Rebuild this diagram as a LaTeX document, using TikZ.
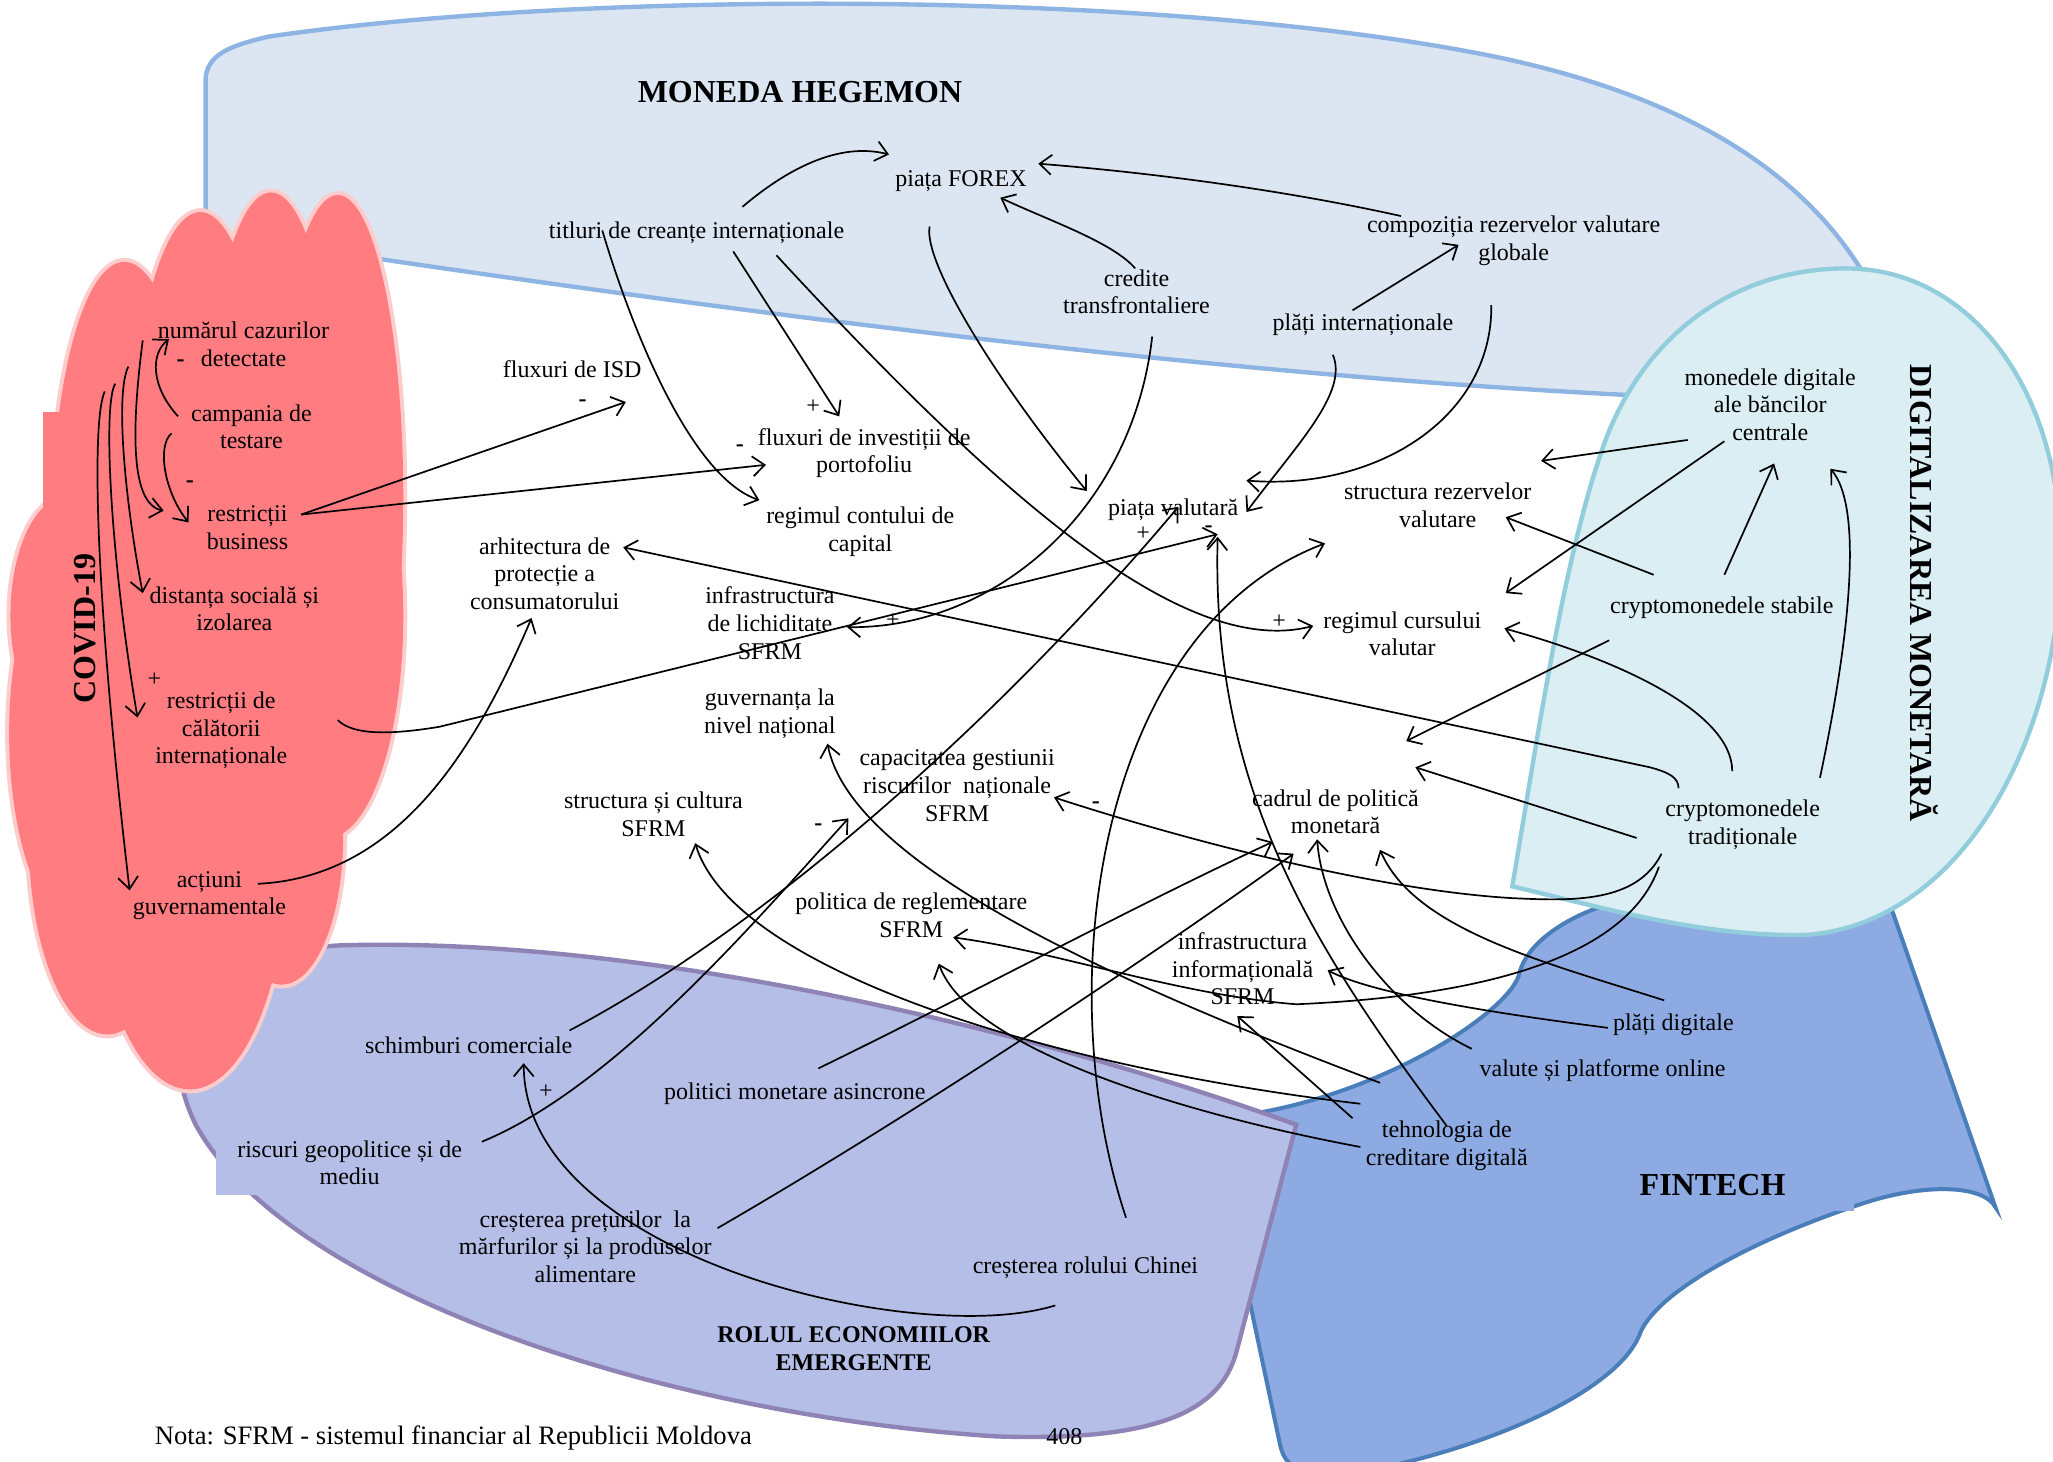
\documentclass[tikz,border=0pt]{standalone}
\usepackage{fontspec}
\setmainfont{Liberation Serif}
\usetikzlibrary{arrows.meta,calc}
\definecolor{cloudfill}{HTML}{FF7C80}
\definecolor{cloudline}{HTML}{FFCCCC}
\definecolor{hegfill}{HTML}{DCE6F2}
\definecolor{hegline}{HTML}{8EB4E3}
\definecolor{digfill}{HTML}{DAEEF3}
\definecolor{digline}{HTML}{92CDDC}
\definecolor{finfill}{HTML}{8DAAE2}
\definecolor{finline}{HTML}{4A7EBB}
\definecolor{emfill}{HTML}{B4BEE6}
\definecolor{emline}{HTML}{8F82B4}
\begin{document}
\begin{tikzpicture}[x=0.6547pt,y=-0.6547pt,
  lbl/.style={inner sep=0pt,align=center,font=\fontsize{12}{13.8}\selectfont},
  ttl/.style={inner sep=0pt,align=center,font=\fontsize{16}{18}\selectfont\bfseries},
  ttlsmall/.style={inner sep=0pt,align=center,font=\fontsize{12}{13.8}\selectfont\bfseries},
  sgn/.style={inner sep=0pt,font=\fontsize{12}{13.8}\selectfont},
  conn/.style={line width=0.85pt,-{Straight Barb[length=6pt,width=10pt]}},
]
\useasboundingbox (0,0) rectangle (1568,1116);
\fill[white] (0,0) rectangle (1568,1116);

% ---------- background areas ----------
% Moneda hegemon
\path[fill=hegfill,draw=hegline,line width=2.2pt]
  (157,178) -- (157,62) .. controls (157,42) and (175,35) .. (205,28)
  .. controls (450,-8) and (900,-8) .. (1150,45)
  .. controls (1300,78) and (1390,140) .. (1435,230)
  .. controls (1460,290) and (1400,302) .. (1250,302)
  .. controls (900,285) and (500,230) .. cycle;

% Fintech
\path[fill=finfill,draw=finline,line width=2pt]
  (1445,695) -- (1524,922) .. controls (1515,905) and (1470,903) .. (1420,920)
  .. controls (1330,950) and (1262,990) .. (1252,1020)
  .. controls (1235,1060) and (1150,1100) .. (1060,1120) -- (990,1120)
  .. controls (983,1118) and (980,1112) .. (978,1105) -- (925,855) -- (940,853)
  .. controls (1050,840) and (1150,775) .. (1160,745)
  .. controls (1165,720) and (1200,695) .. (1250,685) -- cycle;
\fill[finfill] (1200,885) rectangle (1416,925);

% Rolul economiilor emergente
\path[fill=emfill,draw=emline,line width=2.2pt]
  (990,859) .. controls (800,790) and (500,715) .. (260,722)
  .. controls (150,728) and (115,790) .. (150,860)
  .. controls (220,985) and (500,1080) .. (760,1097)
  .. controls (900,1102) and (935,1070) .. (945,1030) -- cycle;
\fill[emfill] (165,862) rectangle (368,913);

% Digitalizarea monetara
\path[fill=digfill,draw=digline,line width=2.2pt]
  (1155,677) .. controls (1175,560) and (1195,420) .. (1227,334)
  .. controls (1260,250) and (1330,205) .. (1410,205)
  .. controls (1500,205) and (1572,290) .. (1574,420)
  .. controls (1575,560) and (1500,705) .. (1380,714)
  .. controls (1300,716) and (1220,692) .. cycle;

% COVID-19 cloud: lobes with outline, then interiors filled again
\foreach \cx/\cy/\rx/\ry in {95/400/55/200, 153/380/55/218, 207/370/52/223,
    258/380/50/231, 250/470/58/170, 215/640/47/112, 145/650/75/182,
    82/640/60/150, 62/560/55/150, 50/470/42/90}
  \draw[cloudline,fill=cloudfill,line width=4pt] (\cx,\cy) ellipse [x radius=\rx, y radius=\ry];
\foreach \cx/\cy/\rx/\ry in {95/400/55/200, 153/380/55/218, 207/370/52/223,
    258/380/50/231, 250/470/58/170, 215/640/47/112, 145/650/75/182,
    82/640/60/150, 62/560/55/150, 50/470/42/90, 160/480/100/220}
  \fill[cloudfill] (\cx,\cy) ellipse [x radius=\rx, y radius=\ry];
\fill[cloudfill] (33,315) rectangle (95,553);

% ---------- titles ----------
\node[ttl] (tHeg) at (611,70) {MONEDA HEGEMON};
\node[ttl,rotate=90] (tCov) at (65,480) {COVID-19};
\node[ttl,rotate=-90] (tDig) at (1470,453) {DIGITALIZAREA MONETARĂ};
\node[ttl] (tFin) at (1308,905) {FINTECH};
\node[ttlsmall] (tEm) at (652,1030) {ROLUL ECONOMIILOR\\EMERGENTE};
\node[inner sep=0pt,font=\fontsize{13.3}{15}\selectfont,anchor=west] (nota) at (118,1098) {Nota: SFRM - sistemul financiar al Republicii Moldova};
\node[lbl] (pg) at (813,1097) {408};

% ---------- variables ----------
\node[lbl] (c1) at (186,263) {numărul cazurilor\\detectate};
\node[lbl] (c2) at (192,326) {campania de\\testare};
\node[lbl] (c3) at (189,403) {restricții\\business};
\node[lbl] (c4) at (179,465) {distanța socială și\\izolarea};
\node[lbl] (c5) at (169,558) {restricții de\\călătorii\\internaționale};
\node[lbl] (c6) at (160,684) {acțiuni\\guvernamentale};

\node[lbl] (h1) at (734,138) {piața FOREX};
\node[lbl] (h2) at (532,178) {titluri de creanțe internaționale};
\node[lbl] (h3) at (868,223) {credite\\transfrontaliere};
\node[lbl] (h4) at (1156,184) {compoziția rezervelor valutare\\globale};
\node[lbl] (h5) at (1041,248) {plăți internaționale};

\node[lbl] (m1) at (437,282) {fluxuri de ISD};
\node[lbl] (m2) at (660,346) {fluxuri de investiții de\\portofoliu};
\node[lbl] (m3) at (657,406) {regimul contului de\\capital};
\node[lbl] (m4) at (416,438) {arhitectura de\\protecție a\\consumatorului};
\node[lbl] (m5) at (588,476) {infrastructura\\de lichiditate\\SFRM};
\node[lbl] (m6) at (896,389) {piața valutară};
\node[lbl] (m7) at (1098,386) {structura rezervelor\\valutare};
\node[lbl] (m8) at (1071,484) {regimul cursului\\valutar};
\node[lbl] (m9) at (588,545) {guvernanța la\\nivel național};
\node[lbl] (m10) at (731,600) {capacitatea gestiunii\\riscurilor~~naționale\\SFRM};
\node[lbl] (m11) at (499,622) {structura și cultura\\SFRM};
\node[lbl] (m12) at (1020,620) {cadrul de politică\\monetară};
\node[lbl] (m13) at (696,699) {politica de reglementare\\SFRM};
\node[lbl] (m14) at (949,740) {infrastructura\\informațională\\SFRM};

\node[lbl] (d1) at (1352,309) {monedele digitale\\ale băncilor\\centrale};
\node[lbl] (d2) at (1315,464) {cryptomonedele stabile};
\node[lbl] (d3) at (1331,630) {cryptomonedele\\tradiționale};

\node[lbl] (f1) at (1278,783) {plăți digitale};
\node[lbl] (f2) at (1224,818) {valute și platforme online};
\node[lbl] (f3) at (1105,875) {tehnologia de\\creditare digitală};

\node[lbl] (e1) at (358,798) {schimburi comerciale};
\node[lbl] (e2) at (607,835) {politici monetare asincrone};
\node[lbl] (e3) at (267,888) {riscuri geopolitice și de\\mediu};
\node[lbl] (e4) at (447,952) {creșterea prețurilor~~la\\mărfurilor și la produselor\\alimentare};
\node[lbl] (e5) at (829,968) {creșterea rolului Chinei};

% ---------- polarity signs ----------
\node[sgn] (s1) at (138,277) {\textbf{-}};
\node[sgn] (s2) at (145,370) {\textbf{-}};
\node[sgn] (s3) at (118,519) {+};
\node[sgn] (s4) at (445,308) {\textbf{-}};
\node[sgn] (s5) at (565,342) {\textbf{-}};
\node[sgn] (s6) at (621,311) {+};
\node[sgn] (s7) at (682,474) {+};
\node[sgn] (s8) at (873,408) {+};
\node[sgn] (s9) at (923,404) {\textbf{-}};
\node[sgn] (s10) at (977,475) {+};
\node[sgn] (s11) at (625,632) {\textbf{-}};
\node[sgn] (s12) at (837,615) {\textbf{-}};
\node[sgn] (s13) at (417,834) {+};

% ---------- links ----------
% COVID-19
\draw[conn] ($(c2)+(-56,-8)$) .. controls (115,295) and (115,270) .. ($(c1)+(-57,-4)$);
\draw[conn] ($(c2)+(-61,5)$) .. controls (120,340) and (125,375) .. ($(c3)+(-45,-4)$);
\draw[conn] ($(c1)+(-77,-3)$) .. controls (100,330) and (100,385) .. ($(c3)+(-64,-13)$);
\draw[conn] ($(c1)+(-88,17)$) .. controls (88,300) and (95,380) .. ($(c4)+(-70,-12)$);
\draw[conn] ($(c1)+(-98,30)$) .. controls (78,310) and (85,430) .. ($(c5)+(-64,-10)$);
\draw[conn] ($(c1)+(-106,36)$) .. controls (70,320) and (72,450) .. ($(c6)+(-61,-4)$);
\draw[conn] ($(c3)+(41,-10)$) -- ($(m1)+(41,25)$);
\draw[conn] ($(c3)+(41,-10)$) -- ($(m2)+(-75,9)$);
\draw[conn] ($(c6)+(37,-9)$) .. controls (300,670) and (360,580) .. ($(m4)+(-10,34)$);
\draw[conn] ($(c5)+(89,-8)$) .. controls (270,562) and (300,561) .. (336,555) -- ($(m6)+(34,19)$);
% Moneda hegemon
\draw[conn] ($(h2)+(35,-20)$) .. controls (600,130) and (640,108) .. ($(h1)+(-55,-20)$);
\draw[conn] ($(h4)+(-86,-19)$) .. controls (980,145) and (880,132) .. ($(h1)+(59,-13)$);
\draw[conn] ($(h3)+(-1,-18)$) .. controls (850,185) and (800,168) .. ($(h1)+(30,13)$);
\draw[conn] ($(h5)+(-8,-11)$) -- ($(h4)+(-42,3)$);
\draw[conn] ($(h2)+(28,14)$) -- ($(m2)+(-19,-28)$);
\draw[conn] ($(h2)+(-72,-2)$) .. controls (485,260) and (530,365) .. ($(m3)+(-77,-24)$);
\draw[conn] ($(h2)+(61,17)$) .. controls (750,365) and (900,505) .. ($(m8)+(-68,-6)$);
\draw[conn] ($(h1)+(-24,35)$) .. controls (705,200) and (760,290) .. ($(m6)+(-66,-14)$);
\draw[conn] ($(h3)+(12,34)$) .. controls (865,390) and (760,480) .. ($(m5)+(59,3)$);
\draw[conn] ($(h5)+(-23,23)$) .. controls (1030,300) and (990,340) .. ($(m6)+(56,2)$);
\draw[conn] ($(h4)+(-17,49)$) .. controls (1140,320) and (1050,375) .. ($(m6)+(56,-22)$);
% Rolul economiilor emergente
\draw[conn] ($(e1)+(77,-11)$) .. controls (600,700) and (780,530) .. ($(m6)+(4,-2)$);
\draw[conn] ($(e3)+(101,-16)$) .. controls (470,830) and (580,700) .. ($(m10)+(-83,25)$);
\draw[conn] ($(e5)+(31,-38)$) .. controls (800,750) and (840,480) .. ($(m7)+(-86,29)$);
\draw[conn] ($(e5)+(-23,29)$) .. controls (700,1030) and (400,960) .. ($(e1)+(42,14)$);
\draw[conn] ($(e2)+(18,-19)$) .. controls (740,760) and (870,690) .. ($(m12)+(-48,23)$);
\draw[conn] ($(e4)+(101,-14)$) .. controls (700,850) and (880,730) .. ($(m12)+(-32,32)$);
% Fintech
\draw[conn] ($(f3)+(0,-15)$) .. controls (1000,720) and (925,600) .. ($(m6)+(34,21)$);
\draw[conn] ($(f2)+(-100,-17)$) .. controls (1060,770) and (1010,700) .. ($(m12)+(-14,21)$);
\draw[conn] ($(f1)+(-50,2)$) .. controls (1150,775) and (1050,760) .. ($(m14)+(65,1)$);
\draw[conn] ($(f1)+(-7,-19)$) .. controls (1180,735) and (1080,710) .. ($(m12)+(34,29)$);
\draw[conn] ($(f3)+(-72,-21)$) -- ($(m14)+(-4,36)$);
\draw[conn] ($(f3)+(-51,-48)$) .. controls (850,750) and (650,660) .. ($(m9)+(44,23)$);
\draw[conn] ($(f3)+(-66,-32)$) .. controls (800,815) and (560,740) .. ($(m11)+(32,22)$);
\draw[conn] ($(f3)+(-66,1)$) .. controls (900,850) and (740,800) .. ($(m13)+(21,37)$);
% Digitalizarea monetara
\draw[conn] ($(d3)+(-64,32)$) .. controls (1245,725) and (1150,760) .. (990,767)
  .. controls (900,760) and (800,725) .. ($(m13)+(32,17)$);
\draw[conn] ($(d3)+(-62,22)$) .. controls (1250,690) and (1200,688) .. (1156,686)
  .. controls (1050,680) and (900,640) .. ($(m10)+(74,9)$);
\draw[conn] ($(d3)+(-49,-28)$) .. controls (1282,594) and (1275,590) .. (1260,586) -- ($(m4)+(60,-20)$);
\draw[conn] ($(d3)+(-8,-41)$) .. controls (1323,545) and (1240,505) .. ($(m8)+(78,-4)$);
\draw[conn] ($(d3)+(-81,10)$) -- ($(m12)+(61,-34)$);
\draw[conn] ($(d3)+(59,-36)$) .. controls (1410,500) and (1425,390) .. ($(d1)+(46,49)$);
\draw[conn] ($(d2)+(2,-25)$) -- ($(d1)+(3,45)$);
\draw[conn] ($(d2)+(-52,-25)$) -- ($(m7)+(52,9)$);
\draw[conn] ($(d1)+(-63,27)$) -- ($(m7)+(79,-34)$);
\draw[conn] ($(d1)+(-35,28)$) -- ($(m8)+(79,-31)$);
\draw[conn] ($(d2)+(-86,25)$) -- ($(m12)+(54,-54)$);
\end{tikzpicture}
\end{document}
